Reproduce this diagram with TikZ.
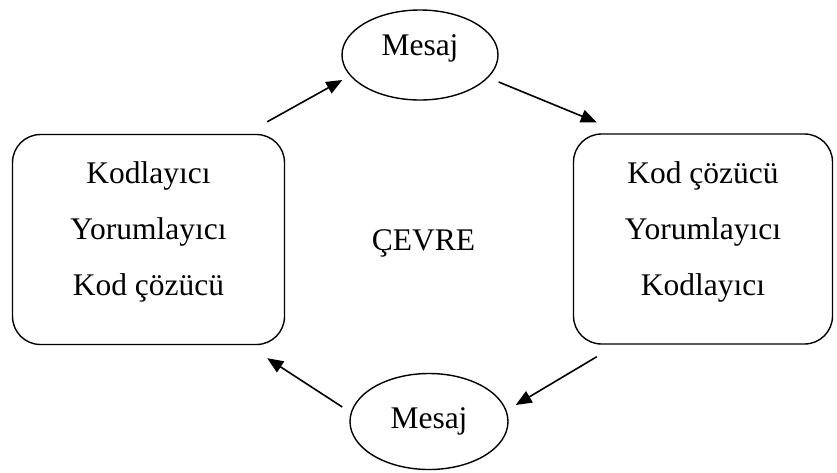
\documentclass[tikz,border=0pt]{standalone}
\usepackage{fontspec}
\setmainfont{Liberation Serif}
\usepackage{tikz}
\usetikzlibrary{arrows.meta, shapes.geometric, calc}

\begin{document}
\begin{tikzpicture}[
    x=1pt, y=-1pt,
    font=\fontsize{31.5}{56}\selectfont,
    %% component styles
    kutu/.style={
        draw, rounded corners=28pt, line width=1.4pt,
        minimum width=272pt, minimum height=210pt
    },
    mesaj/.style={
        draw, ellipse, line width=1.4pt, inner sep=0pt,
        minimum width=156pt, minimum height=90pt
    },
    yazi/.style={align=center, inner sep=0pt},
    %% arrow styles
    ok/.style={-{Triangle[length=16pt, width=13pt]}, line width=1.6pt}
]
    \useasboundingbox (0,0) rectangle (837,472);

    %% --- nodes ------------------------------------------------
    \node[kutu] (solkutu) at (148.5,239.5) {};
    \node[kutu, minimum width=259pt] (sagkutu) at (703,239) {};

    \node[yazi] (solyazi) at ([yshift=7.5pt]solkutu.center) {%
        Kodlayıcı\\
        Yorumlayıcı\\
        Kod çözücü
    };
    \node[yazi] (sagyazi) at ([yshift=7.5pt]sagkutu.center) {%
        Kod çözücü\\
        Yorumlayıcı\\
        Kodlayıcı
    };

    \node[mesaj, text depth=20pt] (ustmesaj) at (420,55) {Mesaj};
    \node[mesaj, minimum width=158pt, minimum height=96pt] (altmesaj) at (429,421.5) {Mesaj};

    \node[inner sep=0pt] (cevre) at (423.5,243) {ÇEVRE};

    %% --- arrows: round the cycle ------------------------------
    \draw[ok] ($(solkutu.north east) + (-18,-12)$) -- ($(ustmesaj.west) + (1,25)$);
    \draw[ok] ($(ustmesaj.east) + (0,27)$) -- ($(sagkutu.north west) + (24,-11)$);
    \draw[ok] ($(sagkutu.south west) + (24,12)$) -- ($(altmesaj.east) + (7,-16.5)$);
    \draw[ok] ($(altmesaj.west) + (-7,-14.5)$) -- ($(solkutu.south east) + (-18,13)$);

\end{tikzpicture}
\end{document}
